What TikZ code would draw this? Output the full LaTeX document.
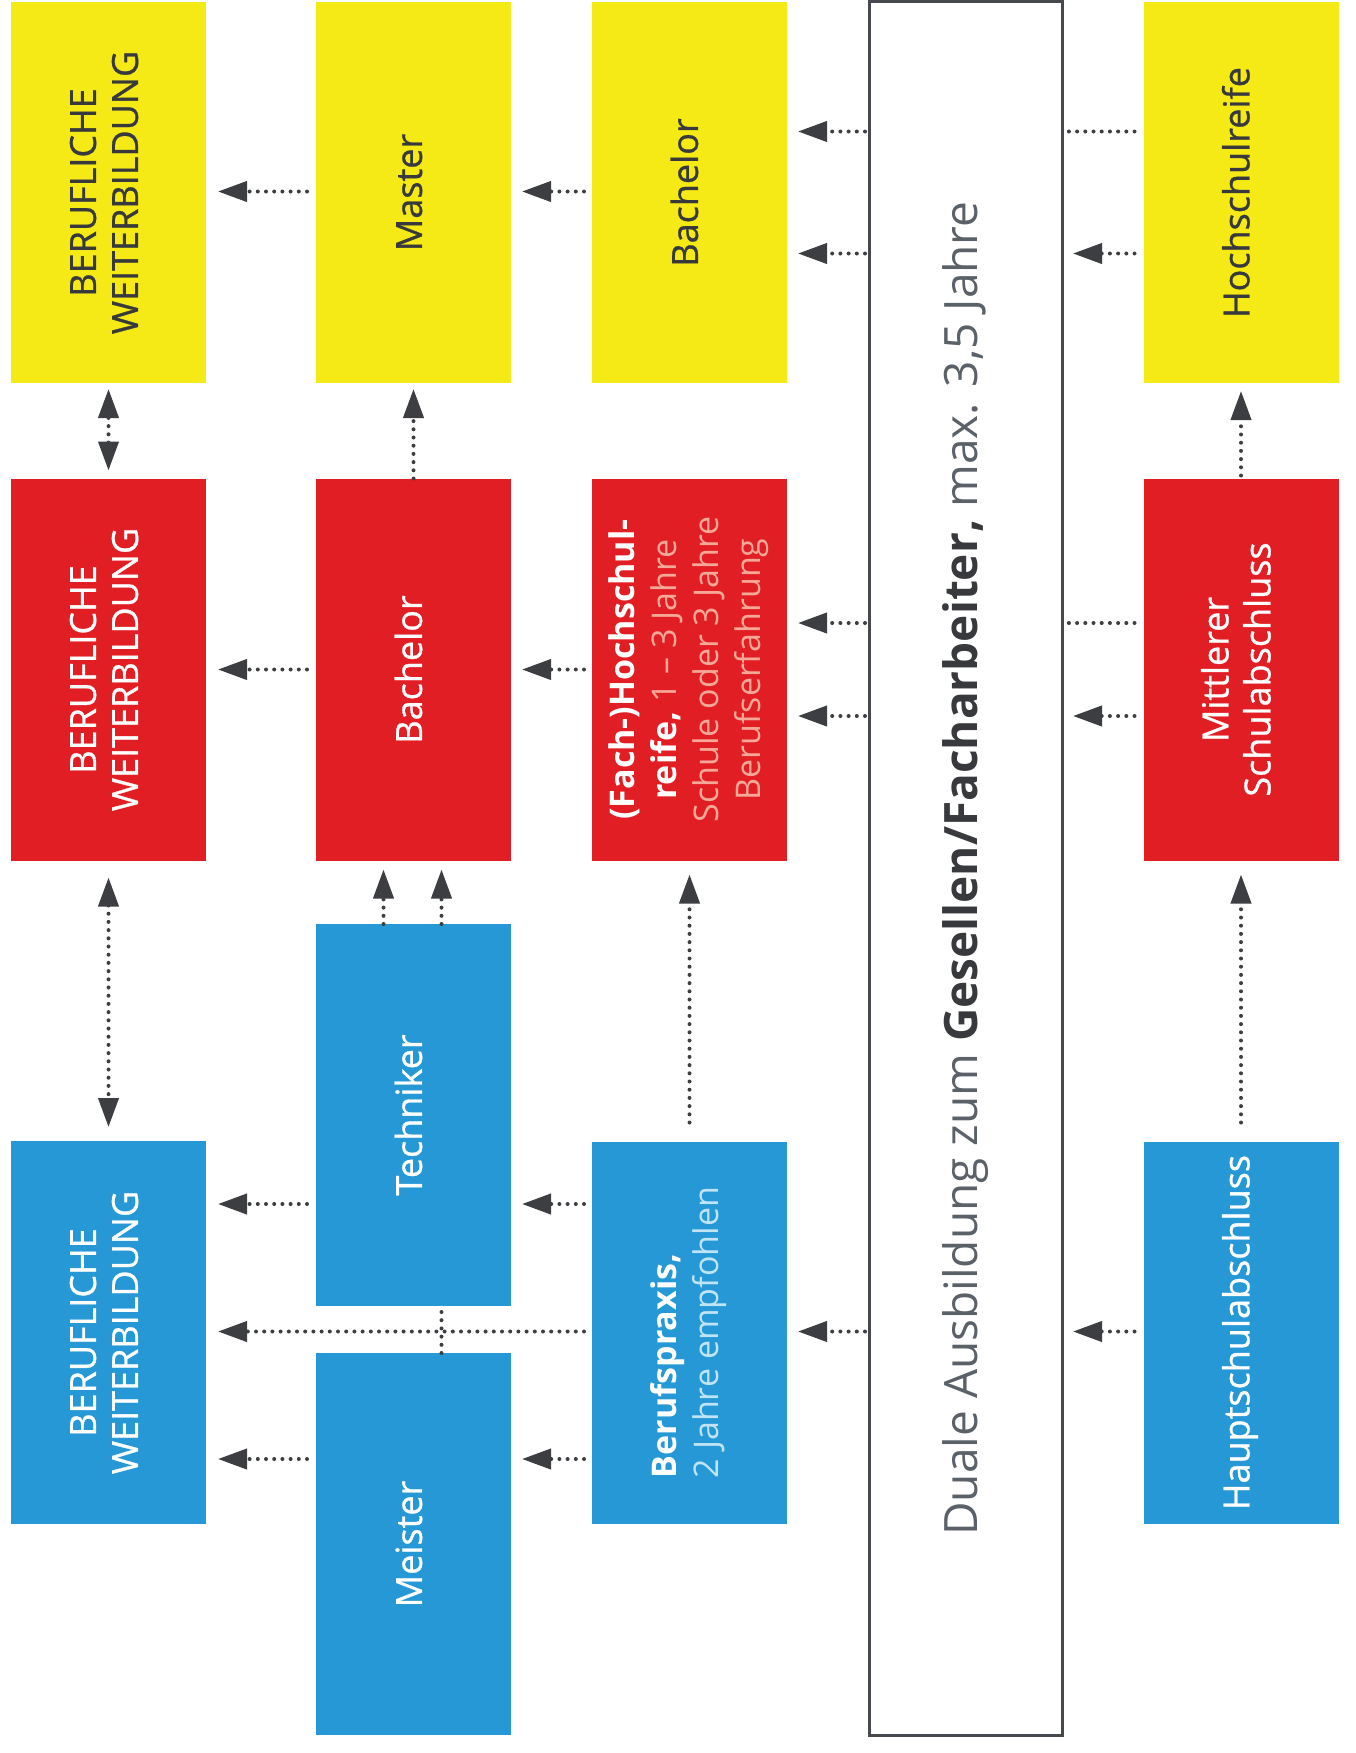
\documentclass[tikz,border=0pt]{standalone}
\usepackage{graphicx}
\usepackage{fontspec}
\setmainfont{Open Sans}
\newfontfamily\semib[FakeBold=0.8]{Open Sans}
\usetikzlibrary{arrows.meta,calc}
\definecolor{yboxc}{RGB}{245,234,22}
\definecolor{rboxc}{RGB}{226,30,37}
\definecolor{bboxc}{RGB}{37,152,213}
\definecolor{darktxt}{RGB}{55,57,60}
\definecolor{arrowc}{RGB}{60,62,66}
\definecolor{framec}{RGB}{70,74,78}
\definecolor{lighttxt}{RGB}{90,97,104}
\definecolor{redlight}{RGB}{246,168,152}
\definecolor{bluelight}{RGB}{190,228,246}
\newcommand{\vlabel}[2][c]{\rotatebox{90}{\begin{tabular}{@{}#1@{}}#2\end{tabular}}}
\begin{document}
\begin{tikzpicture}[x=1pt,y=-1pt,
  boxbase/.style={inner sep=0pt,outer sep=0pt,minimum width=195pt,minimum height=382pt,font=\semib\fontsize{36}{42}\selectfont},
  ybox/.style={boxbase,fill=yboxc,text=darktxt},
  rbox/.style={boxbase,fill=rboxc,text=white},
  bbox/.style={boxbase,fill=bboxc,text=white},
  smalltxt/.style={font=\normalfont\fontsize{34}{42}\selectfont},
  conn/.style={draw=arrowc,line width=4pt,line cap=round,dash pattern=on 0pt off 8.2pt},
  arr/.style={conn,-{Triangle[length=29pt,width=20pt]}},
  darr/.style={conn,{Triangle[length=29pt,width=20pt]}-{Triangle[length=29pt,width=20pt]}}
]
\useasboundingbox (0,0) rectangle (1355,1753);
% yellow row
\node[ybox,minimum height=381pt] (yBW) at (108.5,192.5) {\vlabel{BERUFLICHE\\WEITERBILDUNG}};
\node[ybox,minimum height=381pt] (yMaster) at (413.5,192.5) {\vlabel{Master}};
\node[ybox,minimum height=381pt] (yBach) at (689.5,192.5) {\vlabel{Bachelor}};
\node[ybox,minimum height=381pt] (yHR) at (1241,192.5) {\vlabel{Hochschulreife}};
% red row
\node[rbox] (rBW) at (108.5,669.5) {\vlabel{BERUFLICHE\\WEITERBILDUNG}};
\node[rbox] (rBach) at (413.5,669.5) {\vlabel{Bachelor}};
\node[rbox,smalltxt] (rFH) at (689.5,669.5) {\vlabel{\textbf{(Fach-)Hochschul-}\\\textbf{reife,} {\color{redlight}1 – 3 Jahre}\\{\color{redlight}Schule oder 3 Jahre}\\{\color{redlight}Berufserfahrung}}};
\node[rbox] (rMS) at (1241,669.5) {\vlabel{Mittlerer\\Schulabschluss}};
% blue row
\node[bbox] (bTech) at (413.5,1115) {\vlabel{Techniker}};
\node[bbox] (bMeister) at (413.5,1544) {\vlabel{Meister}};
\node[bbox,minimum height=383pt] (bBW) at (108.5,1332.5) {\vlabel{BERUFLICHE\\WEITERBILDUNG}};
\node[bbox,smalltxt] (bBP) at (689.5,1332.5) {\vlabel[l]{\textbf{Berufspraxis,}\\{\color{bluelight}2 Jahre empfohlen}}};
\node[bbox] (bHS) at (1241,1332.5) {\vlabel{Hauptschulabschluss}};
% central
\node[draw=framec,line width=3pt,inner sep=0pt,outer sep=0pt,minimum width=193pt,minimum height=1733pt,font=\fontsize{46}{50}\selectfont] (central) at (965.5,868.5) {\rotatebox{90}{{\color{lighttxt}Duale Ausbildung zum} {\color{darktxt}\textbf{Gesellen/Facharbeiter,}} {\color{lighttxt}max. 3,5 Jahre}}};
% top row connectors
\draw[arr] ($(yMaster.west)+(-9,-1)$) -- ($(yBW.east)+(12,-1)$);
\draw[arr] ($(yBach.west)+(-8,-1)$) -- ($(yMaster.east)+(11,-1)$);
\draw[arr] ($(central.west |- yBach.east)+(-4,-61)$) -- ($(yBach.east)+(11,-61)$);
\draw[arr] ($(central.west |- yBach.east)+(-4,61)$) -- ($(yBach.east)+(11,61)$);
\draw[conn] ($(yHR.west)+(-9,-61)$) -- ($(central.east |- yHR.west)+(6,-61)$);
\draw[arr] ($(yHR.west)+(-9,61)$) -- ($(central.east |- yHR.west)+(11,61)$);
% red row connectors
\draw[arr] ($(rBach.west)+(-9,0)$) -- ($(rBW.east)+(12,0)$);
\draw[arr] ($(rFH.west)+(-8,0)$) -- ($(rBach.east)+(11,0)$);
\draw[arr] ($(central.west |- rFH.east)+(-4,-46.5)$) -- ($(rFH.east)+(11,-46.5)$);
\draw[arr] ($(central.west |- rFH.east)+(-4,46.5)$) -- ($(rFH.east)+(11,46.5)$);
\draw[conn] ($(rMS.west)+(-9,-46.5)$) -- ($(central.east |- rMS.west)+(6,-46.5)$);
\draw[arr] ($(rMS.west)+(-9,46.5)$) -- ($(central.east |- rMS.west)+(11,46.5)$);
% blue row connectors
\draw[arr] ($(bTech.west)+(-9,89)$) -- ($(bBW.east |- bTech.west)+(12,89)$);
\draw[arr] ($(bBP.west |- bTech.west)+(-8,89)$) -- ($(bTech.east)+(11,89)$);
\draw[arr] ($(bBP.west)+(-8,-1)$) -- ($(bBW.east)+(12,-1)$);
\draw[arr] ($(bMeister.west)+(-9,-85)$) -- ($(bBW.east |- bMeister.west)+(12,-85)$);
\draw[arr] ($(bBP.west |- bMeister.west)+(-8,-85)$) -- ($(bMeister.east)+(11,-85)$);
\draw[arr] ($(central.west |- bBP.east)+(-4,-1)$) -- ($(bBP.east)+(11,-1)$);
\draw[arr] ($(bHS.west)+(-9,-1)$) -- ($(central.east |- bHS.west)+(11,-1)$);
% vertical connectors
\draw[darr] ($(rBW.north)+(0,-8)$) -- ($(yBW.south)+(0,6)$);
\draw[darr] ($(rBW.south)+(0,17)$) -- ($(bBW.north)+(0,-14)$);
\draw[arr] (rBach.north) -- ($(yMaster.south)+(0,6)$);
\draw[arr] ($(bTech.north)+(-30,0)$) -- ($(rBach.south)+(-30,9)$);
\draw[arr] ($(bTech.north)+(28,0)$) -- ($(rBach.south)+(28,9)$);
\draw[conn] ($(bMeister.north)+(28,0)$) -- ($(bTech.south)+(28,0)$);
\draw[arr] ($(bBP.north)+(0,-19)$) -- ($(rFH.south)+(0,14)$);
\draw[arr] ($(rMS.north)+(0,-3)$) -- ($(yHR.south)+(0,8)$);
\draw[arr] ($(bHS.north)+(0,-19)$) -- ($(rMS.south)+(0,14)$);
\end{tikzpicture}
\end{document}
